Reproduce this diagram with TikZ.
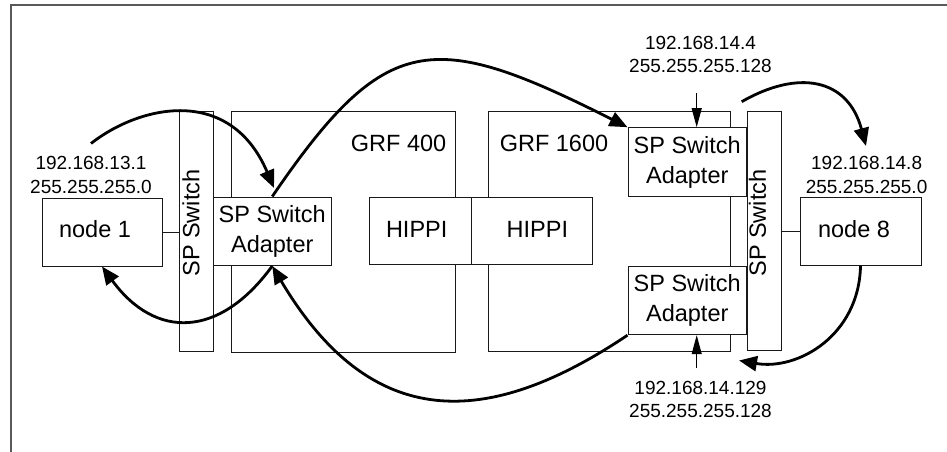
\documentclass[tikz,border=0pt]{standalone}
\usepackage{fontspec}
\setmainfont{Liberation Sans}
\usetikzlibrary{arrows.meta}
\newcommand\boxfont{\fontsize{23.5}{30}\selectfont}
\newcommand\ipfont{\fontsize{19}{23.4}\selectfont}
\begin{document}
\begin{tikzpicture}[x=1pt,y=-1pt,
  box/.style={draw=black!90, fill=white, line width=1pt, inner sep=0pt, font=\boxfont, align=center},
  lbl/.style={inner sep=0pt, font=\boxfont},
  ip/.style={inner sep=0pt, font=\ipfont, align=center},
  flow/.style={line width=2.8pt, -{Triangle[length=18pt,width=15pt]}},
  flowplain/.style={line width=2.8pt},
  pin/.style={line width=1pt, -{Triangle[length=19pt,width=10pt]}}]
\useasboundingbox (0,0) rectangle (947,452);
% frame
\draw[black!65, line width=2pt] (11,452) -- (11,5) -- (947,5);
% routers
\node[box, minimum width=224pt, minimum height=241pt] (grf400) at (343,231.5) {};
\node[box, minimum width=242pt, minimum height=240pt] (grf1600) at (609.5,231) {};
\node[lbl] (grf400t) at (398.6,143) {GRF 400};
\node[lbl] (grf1600t) at (554,143) {GRF 1600};
% HIPPI
\node[box, minimum width=102.6pt, minimum height=67.5pt] (hipL) at (420.3,230.75) {};
\node[box, minimum width=120.4pt, minimum height=67.5pt] (hipR) at (531.8,230.75) {};
\node[lbl] (hipLt) at (416.7,229.3) {HIPPI};
\node[lbl] (hipRt) at (537.4,229.3) {HIPPI};
% adapters
\node[box, minimum width=118.5pt, minimum height=68.5pt] (adL) at (272.25,231.25) {SP Switch\\Adapter};
\node[box, minimum width=118.5pt, minimum height=69pt] (adR1) at (687.25,162.2) {SP Switch\\Adapter};
\node[box, minimum width=118.5pt, minimum height=68pt] (adR2) at (687.25,300.7) {SP Switch\\Adapter};
% switches
\node[box, minimum width=33.5pt, minimum height=240pt] (barL) at (196.25,231.5) {};
\node[box, minimum width=33.8pt, minimum height=239.5pt] (barR) at (764.6,230.75) {};
\node[lbl, rotate=90] (barLt) at (191,223) {SP Switch};
\node[lbl, rotate=90] (barRt) at (757.5,223) {SP Switch};
% nodes
\node[box, minimum width=120pt, minimum height=68pt] (n1) at (102,232) {};
\node[box, minimum width=121pt, minimum height=68pt] (n8) at (860.5,231.5) {};
\node[lbl] (n1t) at (95,229) {node 1};
\node[lbl] (n8t) at (854,229) {node 8};
\draw[line width=1pt, black!90] (n1.east) -- (n1.east -| barL.west);
\draw[line width=1pt, black!90] (n8.west) -- (n8.west -| barR.east);
% IP labels
\node[ip] (ip1) at (91,175) {192.168.13.1\\255.255.255.0};
\node[ip] (ip8) at (866.6,175) {192.168.14.8\\255.255.255.0};
\node[ip] (ip4) at (700.5,54.5) {192.168.14.4\\255.255.255.128};
\node[ip] (ip129) at (700.5,399.2) {192.168.14.129\\255.255.255.128};
% pins
\coordinate (p4) at (696.7,93);
\coordinate (p129) at (696.7,368);
\draw[pin] (p4) -- (p4 |- adR1.north);
\draw[pin] (p129) -- (p129 |- adR2.south);
% flows
\coordinate (aS) at (91,143.5);
\coordinate (aE) at (274,188);
\draw[flow] (aS) .. controls (140,105) and (230,85) .. (aE);
\draw[flow] (adL.north) .. controls (385.5,30.7) and (432.2,28.7) .. (adR1.north west);
\coordinate (eS) at (741.7,101.7);
\coordinate (eE) at (866,146);
\draw[flow] (eS) .. controls (798.3,69.2) and (847.8,78.1) .. (eE);
\coordinate (fE) at (739,360.5);
\draw[flow] (n8.south) .. controls (859,335.5) and (797.8,370.7) .. (fE);
\draw[flow] (adR2.south west) .. controls (486.9,429.5) and (371,432.3) .. (adL.south);
\draw[flow] (adL.south) .. controls (219,339) and (155,339) .. (n1.south);
\end{tikzpicture}
\end{document}
